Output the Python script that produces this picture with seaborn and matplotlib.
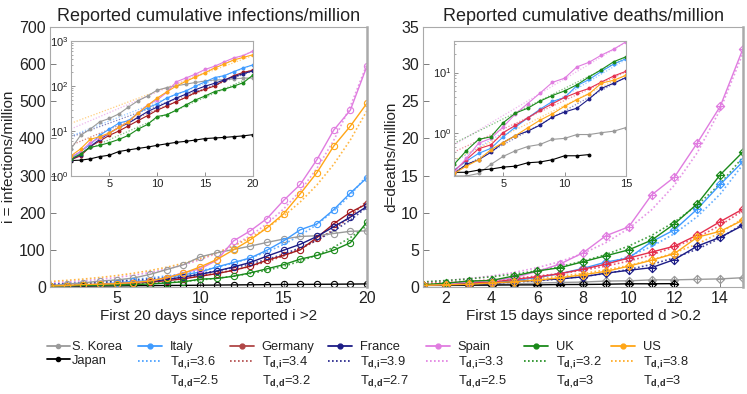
import numpy as np
import pandas as pd
import matplotlib
matplotlib.use('Agg')
import matplotlib.pyplot as plt
from matplotlib.lines import Line2D
from matplotlib.path import Path
import seaborn as sns

# данные
countries = ['S. Korea', 'Japan', 'Italy', 'Germany', 'France', 'Spain', 'UK', 'US']
fit_countries = ['Italy', 'Germany', 'France', 'Spain', 'UK', 'US']

days_inf = list(range(1, 21))
inf_korea = [4, 8, 11, 16, 19, 24, 34, 47, 60, 81, 92, 101, 110, 120, 129, 136, 138, 144, 150, 151]
inf_japan = [2.2, 2.25, 2.4, 2.7, 2.9, 3.5, 3.8, 4.1, 4.4, 4.8, 5.2, 5.6, 5.9, 6.3, 6.8, 7.0, 7.2, 7.5, 7.8, 8.3]
inf_italy = [2.5, 3.5, 5, 8, 11, 15, 17, 25, 33, 40, 54, 66, 78, 99, 124, 154, 170, 208, 253, 294]
inf_germany = [2.3, 2.8, 4.5, 6, 8, 10, 13, 17, 22, 29, 36, 45, 56, 72, 85, 100, 133, 170, 201, 224]
inf_france = [2.3, 3, 4.5, 6.5, 9, 12, 15, 20, 27, 34, 43, 54, 66, 83, 99, 115, 136, 162, 188, 217]
inf_spain = [2.6, 3.5, 5.5, 7, 9, 12, 16, 25, 38, 49, 72, 124, 151, 184, 233, 276, 343, 422, 476, 595]
inf_uk = [2.4, 3.1, 4.3, 4.8, 5.5, 6.5, 8, 11, 14, 21, 23, 29, 38, 49, 60, 75, 85, 99, 119, 175]
inf_us = [2.8, 4, 6.5, 7.5, 9, 12, 16, 25, 37, 54, 74, 100, 127, 159, 197, 251, 308, 379, 433, 495]

days_death = list(range(1, 16))
death_korea = [0.2, 0.2, 0.22, 0.31, 0.42, 0.52, 0.61, 0.66, 0.8, 0.83, 0.96, 0.96, 1.03, 1.09, 1.25]
death_japan = [0.23, 0.23, 0.25, 0.26, 0.28, 0.29, 0.33, 0.34, 0.37, 0.43, 0.43, 0.45]
death_italy = [0.25, 0.35, 0.47, 0.57, 0.88, 1.27, 1.8, 2.5, 3.35, 3.9, 6.1, 7.7, 10.5, 13.8, 16.9]
death_germany = [0.24, 0.37, 0.56, 0.65, 1.03, 1.36, 1.8, 2.4, 3.07, 3.9, 4.7, 5.5, 7.0, 8.8, 10.5]
death_france = [0.22, 0.31, 0.37, 0.49, 0.71, 0.92, 1.09, 1.37, 1.86, 2.25, 2.6, 3.7, 5.5, 6.7, 8.3]
death_spain = [0.23, 0.39, 0.69, 0.83, 1.28, 2.1, 3.1, 4.6, 6.9, 8.1, 12.4, 14.8, 19.4, 24.3, 32.1]
death_uk = [0.31, 0.52, 0.8, 0.88, 1.5, 2.16, 2.6, 3.4, 4.2, 5.0, 6.3, 8.5, 11.2, 15.1, 18.2]
death_us = [0.22, 0.29, 0.37, 0.54, 0.71, 0.92, 1.24, 1.65, 2.1, 2.8, 3.6, 4.5, 6.7, 7.5, 9.0]

# время удвоения из легенды и значение фита в последний день
td_inf = [3.6, 3.4, 3.9, 3.3, 3.2, 3.8]
td_death = [2.5, 3.2, 2.7, 2.5, 3, 3]
fit_end_inf = [300, 232, 215, 600, 165, 475]
fit_end_death = [16.5, 10.3, 8.5, 31.5, 17.5, 9.2]

colors_left = {'S. Korea': '#9a9a9a', 'Japan': '#000000', 'Italy': '#3f9bff',
               'Germany': '#a3191c', 'France': '#1c1c86', 'Spain': '#e07ce0',
               'UK': '#1a8a1a', 'US': '#ffa617'}
colors_right = dict(colors_left, Germany='#e5304e')
germany_legend = '#b04646'

inf_series = [inf_korea, inf_japan, inf_italy, inf_germany, inf_france, inf_spain, inf_uk, inf_us]
death_series = [death_korea, death_japan, death_italy, death_germany, death_france, death_spain, death_uk, death_us]


def long_df(days, series):
    rows = []
    for c, vals in zip(countries, series):
        for d, v in zip(days, vals):
            rows.append((c, d, v))
    return pd.DataFrame(rows, columns=['country', 'day', 'value'])


def fit_df(days, ends, tds):
    rows = []
    for c, e, t in zip(fit_countries, ends, tds):
        for d in days:
            rows.append((c, d, e * 2 ** ((d - days[-1]) / t)))
    return pd.DataFrame(rows, columns=['country', 'day', 'value'])


df_inf = long_df(days_inf, inf_series)
df_death = long_df(days_death, death_series)
fit_inf = fit_df(days_inf, fit_end_inf, td_inf)
fit_death = fit_df(days_death, fit_end_death, td_death)

sns.set_style('ticks')
plt.rcParams['font.family'] = ['Liberation Sans', 'DejaVu Sans']
plt.rcParams['mathtext.fontset'] = 'custom'
plt.rcParams['mathtext.rm'] = 'Liberation Sans'
plt.rcParams['mathtext.bf'] = 'Liberation Sans:bold'
plt.rcParams['xtick.direction'] = 'in'
plt.rcParams['ytick.direction'] = 'in'
plt.rcParams['text.color'] = '#222222'
plt.rcParams['axes.labelcolor'] = '#222222'
plt.rcParams['xtick.color'] = '#666666'
plt.rcParams['ytick.color'] = '#666666'
plt.rcParams['xtick.labelcolor'] = '#222222'
plt.rcParams['ytick.labelcolor'] = '#222222'

fig = plt.figure(figsize=(7.47, 3.94), dpi=100)
ax1 = fig.add_axes([0.0669, 0.2716, 0.4244, 0.6599])
ax2 = fig.add_axes([0.5663, 0.2716, 0.4284, 0.6599])
in1 = fig.add_axes([0.0950, 0.5533, 0.2436, 0.3426])
in2 = fig.add_axes([0.6078, 0.5533, 0.2303, 0.3426])

dots = (0, (1, 1.4))
# ромб с крестом внутри, как в оригинале
diamond_cross = Path([(0, 1), (1, 0), (0, -1), (-1, 0), (0, 1),
                      (-1, 0), (1, 0), (0, -1), (0, 1)],
                     [Path.MOVETO, Path.LINETO, Path.LINETO, Path.LINETO, Path.CLOSEPOLY,
                      Path.MOVETO, Path.LINETO, Path.MOVETO, Path.LINETO])


def draw(ax, df, fit, pal, marker, ms, lw, fit_lw, fit_alpha, fill):
    for c in fit_countries:
        sub = fit[fit.country == c]
        sns.lineplot(data=sub, x='day', y='value', color=pal[c], ax=ax,
                     linestyle=dots, linewidth=fit_lw, alpha=fit_alpha)
    for c in countries:
        sub = df[df.country == c]
        sns.lineplot(data=sub, x='day', y='value', color=pal[c], ax=ax,
                     marker=marker, markersize=ms, markeredgecolor=pal[c],
                     markerfacecolor=fill, markeredgewidth=0.8, linewidth=lw)


draw(ax1, df_inf, fit_inf, colors_left, 'o', 4.5, 1.0, 1.2, 0.8, 'none')
draw(ax2, df_death, fit_death, colors_right, diamond_cross, 6, 1.0, 1.2, 0.8, 'none')
draw(in1, df_inf, fit_inf, colors_left, 'o', 2.0, 0.8, 0.9, 0.55, None)
draw(in2, df_death, fit_death, colors_right, 'o', 2.0, 0.8, 0.9, 0.55, None)

ax1.set_xlim(1, 20)
ax1.set_ylim(0, 700)
ax1.set_xticks([5, 10, 15, 20])
ax1.set_yticks(range(0, 701, 100))
ax1.set_title('Reported cumulative infections/million', fontsize=13, pad=4)
ax1.set_xlabel('First 20 days since reported i >2', fontsize=11, labelpad=2)
ax1.set_ylabel('i = infections/million', fontsize=11, labelpad=2)

ax2.set_xlim(1, 15)
ax2.set_ylim(0, 35)
ax2.set_xticks(range(2, 15, 2))
ax2.set_yticks(range(0, 36, 5))
ax2.set_title('Reported cumulative deaths/million', fontsize=13, pad=4)
ax2.set_xlabel('First 15 days since reported d >0.2', fontsize=11, labelpad=2)
ax2.set_ylabel('d=deaths/million', fontsize=11, labelpad=2)

in1.set_yscale('log')
in1.set_xlim(1, 20)
in1.set_ylim(1, 1000)
in1.set_xticks([5, 10, 15, 20])
in2.set_yscale('log')
in2.set_xlim(1, 15)
in2.set_ylim(0.2, 33)
in2.set_xticks([5, 10, 15])

for ax in [ax1, ax2]:
    ax.tick_params(labelsize=11.5, length=4, width=0.6, pad=3)
for ax in [in1, in2]:
    ax.tick_params(labelsize=8, length=3, width=0.5, pad=2)
    ax.tick_params(which='minor', length=1.5, width=0.4)
    ax.set_xlabel('')
    ax.set_ylabel('')
for ax in [ax1, ax2, in1, in2]:
    for s in ax.spines.values():
        s.set_visible(True)
        s.set_color('#aaaaaa')
        s.set_linewidth(0.8)
for ax in [ax1, ax2]:
    ax.spines['right'].set_linewidth(1.8)

# легенда снизу: по одной колонке на страну
W, H = 747, 394
top = 1 - 341 / H
blank = Line2D([], [], linestyle='none')
leg_kw = dict(loc='upper left', frameon=False, fontsize=9.3, borderpad=0,
              borderaxespad=0, labelspacing=0.12)

fig.legend([Line2D([], [], color=colors_left['S. Korea'], marker='o', markersize=3, lw=1.3),
            Line2D([], [], color='k', marker='o', markersize=3, lw=1.3)],
           ['S. Korea', 'Japan'], bbox_to_anchor=(47 / W, top),
           handlelength=1.75, handletextpad=0.15, **leg_kw)

col_x = [138, 230, 328, 426, 524, 611]
for c, ti, tdd, x in zip(fit_countries, td_inf, td_death, col_x):
    col = germany_legend if c == 'Germany' else colors_left[c]
    hs = [Line2D([], [], color=col, marker='o', markersize=3.5, lw=1.3),
          Line2D([], [], color=col, linestyle=dots, lw=1.2), blank]
    ls = [c, r'T$_{\mathbf{d,\!i}}$=%g' % ti, r'T$_{\mathbf{d,\!d}}$=%g' % tdd]
    fig.legend(hs, ls, bbox_to_anchor=(x / W, top), handlelength=1.85,
               handletextpad=0.6, **leg_kw)

fig.savefig('out.png', dpi=100)
